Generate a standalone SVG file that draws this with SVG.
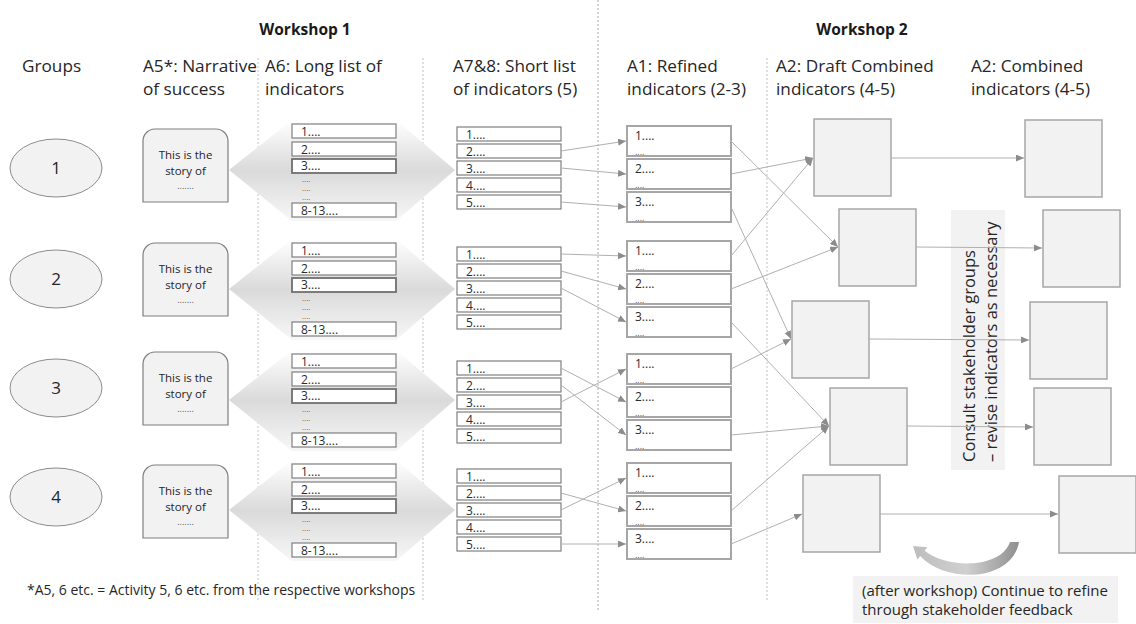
<svg xmlns="http://www.w3.org/2000/svg" width="1136" height="624" viewBox="0 0 1136 624">
  <defs>
    <style>
      text { font-family: "Open Sans", "Liberation Sans", sans-serif; fill: #404040; }
      .hd { font-size: 17.2px; fill: #262626; }
      .ws { font-size: 15.5px; font-weight: bold; fill: #1a1a1a; text-anchor: middle; }
      .div { stroke: #c4c4c4; stroke-width: 1; stroke-dasharray: 2 2; fill: none; }
      .div2 { stroke: #a8a8a8; stroke-width: 1; stroke-dasharray: 2 2; fill: none; }
      .ell { fill: #f2f2f2; stroke: #8c8c8c; stroke-width: 1; }
      .num { font-size: 17px; text-anchor: middle; fill: #262626; }
      .story { fill: #f2f2f2; stroke: #7f7f7f; stroke-width: 1.2; }
      .st { font-size: 11.5px; text-anchor: middle; fill: #262626; }
      .sd { font-size: 9px; text-anchor: middle; fill: #595959; }
      .fan { fill: url(#fanGrad); }
      .bx { fill: #ffffff; stroke: #7f7f7f; stroke-width: 1.2; }
      .bx3 { fill: #ffffff; stroke: #6f6f6f; stroke-width: 1.8; }
      .lt { font-size: 12px; fill: #2b2b2b; }
      .dt { font-size: 8px; fill: #595959; }
      .rd { font-size: 9px; fill: #595959; }
      .ref { fill: #ffffff; stroke: #a6a6a6; stroke-width: 2; }
      .sq { fill: #f2f2f2; stroke: #a6a6a6; stroke-width: 1.5; }
      .cn line { stroke: #b0b0b0; stroke-width: 1; marker-end: url(#ah); }
      .note { font-size: 15px; fill: #262626; }
      .vt { font-size: 16.5px; fill: #262626; }
      .fn { font-size: 14px; fill: #262626; }
    </style>
    <marker id="ah" markerUnits="userSpaceOnUse" markerWidth="8" markerHeight="7" refX="8" refY="3.5" orient="auto">
      <path d="M0,0 L8,3.5 L0,7 Z" fill="#8c8c8c"/>
    </marker>
    <linearGradient id="fanGrad" x1="0" y1="0" x2="0" y2="1">
      <stop offset="0" stop-color="#ffffff"/>
      <stop offset="0.5" stop-color="#dadada"/>
      <stop offset="1" stop-color="#f7f7f7"/>
    </linearGradient>
    <linearGradient id="loopGrad" x1="0" y1="0" x2="1" y2="0">
      <stop offset="0" stop-color="#bdbdbd"/>
      <stop offset="0.5" stop-color="#d0d0d0"/>
      <stop offset="1" stop-color="#8f8f8f"/>
    </linearGradient>
  </defs>

  <rect width="1136" height="624" fill="#ffffff"/>

  <!-- column dividers -->
  <g id="dividers">
    <line class="div" x1="258" y1="58" x2="258" y2="600"/>
    <line class="div" x1="423" y1="58" x2="423" y2="600"/>
    <line class="div2" x1="598" y1="0" x2="598" y2="610"/>
    <line class="div" x1="767" y1="58" x2="767" y2="600"/>
  </g>

  <!-- headings -->
  <g id="headings">
    <text class="ws" x="305" y="35">Workshop 1</text>
    <text class="ws" x="862" y="35">Workshop 2</text>
    <text class="hd" x="22" y="72">Groups</text>
    <text class="hd" x="143" y="72">A5*: Narrative</text>
    <text class="hd" x="143" y="95">of success</text>
    <text class="hd" x="265" y="72">A6: Long list of</text>
    <text class="hd" x="265" y="95">indicators</text>
    <text class="hd" x="453" y="72">A7&amp;8: Short list</text>
    <text class="hd" x="453" y="95">of indicators (5)</text>
    <text class="hd" x="627" y="72">A1: Refined</text>
    <text class="hd" x="627" y="95">indicators (2-3)</text>
    <text class="hd" x="776" y="72">A2: Draft Combined</text>
    <text class="hd" x="776" y="95">indicators (4-5)</text>
    <text class="hd" x="971" y="72">A2: Combined</text>
    <text class="hd" x="971" y="95">indicators (4-5)</text>
  </g>

  <!-- group 1 -->
  <g id="group-1">
    <ellipse class="ell" cx="56" cy="168" rx="46" ry="29"/>
    <text class="num" x="56" y="174">1</text>
    <path class="story" d="M143,202 V141 A12,12 0 0 1 155,129 H216 A12,12 0 0 1 228,141 V202 Z"/>
    <text class="st" x="185.5" y="159">This is the</text>
    <text class="st" x="185.5" y="175">story of</text>
    <text class="sd" x="185.5" y="189">.......</text>
    <polygon class="fan" points="229,170 292,120 396,120 455,170 396,221 292,221"/>
    <rect class="bx" x="292" y="124" width="104" height="14"/><text class="lt" x="301" y="135.5">1....</text>
    <rect class="bx" x="292" y="142" width="104" height="14"/><text class="lt" x="301" y="153.5">2....</text>
    <rect class="bx3" x="292" y="159" width="104" height="14"/><text class="lt" x="301" y="169.5">3....</text>
    <text class="dt" x="302" y="181.5">....</text>
    <text class="dt" x="302" y="190.5">....</text>
    <text class="dt" x="302" y="199.5">....</text>
    <rect class="bx" x="292" y="203" width="104" height="14"/><text class="lt" x="301" y="214.5">8-13....</text>
    <rect class="bx" x="457" y="127" width="104" height="14"/><text class="lt" x="466" y="138.5">1....</text>
    <rect class="bx" x="457" y="144" width="104" height="14"/><text class="lt" x="466" y="155.5">2....</text>
    <rect class="bx" x="457" y="161" width="104" height="14"/><text class="lt" x="466" y="172.5">3....</text>
    <rect class="bx" x="457" y="178" width="104" height="14"/><text class="lt" x="466" y="189.5">4....</text>
    <rect class="bx" x="457" y="195" width="104" height="14"/><text class="lt" x="466" y="206.5">5....</text>
    <rect class="ref" x="627" y="126" width="104" height="30"/><text class="lt" x="635" y="140">1....</text><text class="rd" x="635" y="155">....</text>
    <rect class="ref" x="627" y="159" width="104" height="30"/><text class="lt" x="635" y="173">2....</text><text class="rd" x="635" y="188">....</text>
    <rect class="ref" x="627" y="192" width="104" height="30"/><text class="lt" x="635" y="206">3....</text><text class="rd" x="635" y="221">....</text>
  </g>

  <!-- group 2 -->
  <g id="group-2">
    <ellipse class="ell" cx="56" cy="279" rx="46" ry="29"/>
    <text class="num" x="56" y="285">2</text>
    <path class="story" d="M143,316 V255 A12,12 0 0 1 155,243 H216 A12,12 0 0 1 228,255 V316 Z"/>
    <text class="st" x="185.5" y="273">This is the</text>
    <text class="st" x="185.5" y="289">story of</text>
    <text class="sd" x="185.5" y="303">.......</text>
    <polygon class="fan" points="229,289 292,239 396,239 455,289 396,340 292,340"/>
    <rect class="bx" x="292" y="243" width="104" height="14"/><text class="lt" x="301" y="254.5">1....</text>
    <rect class="bx" x="292" y="261" width="104" height="14"/><text class="lt" x="301" y="272.5">2....</text>
    <rect class="bx3" x="292" y="278" width="104" height="14"/><text class="lt" x="301" y="288.5">3....</text>
    <text class="dt" x="302" y="300.5">....</text>
    <text class="dt" x="302" y="309.5">....</text>
    <text class="dt" x="302" y="318.5">....</text>
    <rect class="bx" x="292" y="322" width="104" height="14"/><text class="lt" x="301" y="333.5">8-13....</text>
    <rect class="bx" x="457" y="247" width="104" height="14"/><text class="lt" x="466" y="258.5">1....</text>
    <rect class="bx" x="457" y="264" width="104" height="14"/><text class="lt" x="466" y="275.5">2....</text>
    <rect class="bx" x="457" y="281" width="104" height="14"/><text class="lt" x="466" y="292.5">3....</text>
    <rect class="bx" x="457" y="298" width="104" height="14"/><text class="lt" x="466" y="309.5">4....</text>
    <rect class="bx" x="457" y="315" width="104" height="14"/><text class="lt" x="466" y="326.5">5....</text>
    <rect class="ref" x="627" y="241" width="104" height="30"/><text class="lt" x="635" y="255">1....</text><text class="rd" x="635" y="270">....</text>
    <rect class="ref" x="627" y="274" width="104" height="30"/><text class="lt" x="635" y="288">2....</text><text class="rd" x="635" y="303">....</text>
    <rect class="ref" x="627" y="307" width="104" height="30"/><text class="lt" x="635" y="321">3....</text><text class="rd" x="635" y="336">....</text>
  </g>

  <!-- group 3 -->
  <g id="group-3">
    <ellipse class="ell" cx="56" cy="388" rx="46" ry="29"/>
    <text class="num" x="56" y="394">3</text>
    <path class="story" d="M143,425 V364 A12,12 0 0 1 155,352 H216 A12,12 0 0 1 228,364 V425 Z"/>
    <text class="st" x="185.5" y="382">This is the</text>
    <text class="st" x="185.5" y="398">story of</text>
    <text class="sd" x="185.5" y="412">.......</text>
    <polygon class="fan" points="229,400 292,350 396,350 455,400 396,451 292,451"/>
    <rect class="bx" x="292" y="354" width="104" height="14"/><text class="lt" x="301" y="365.5">1....</text>
    <rect class="bx" x="292" y="372" width="104" height="14"/><text class="lt" x="301" y="383.5">2....</text>
    <rect class="bx3" x="292" y="389" width="104" height="14"/><text class="lt" x="301" y="399.5">3....</text>
    <text class="dt" x="302" y="411.5">....</text>
    <text class="dt" x="302" y="420.5">....</text>
    <text class="dt" x="302" y="429.5">....</text>
    <rect class="bx" x="292" y="433" width="104" height="14"/><text class="lt" x="301" y="444.5">8-13....</text>
    <rect class="bx" x="457" y="361" width="104" height="14"/><text class="lt" x="466" y="372.5">1....</text>
    <rect class="bx" x="457" y="378" width="104" height="14"/><text class="lt" x="466" y="389.5">2....</text>
    <rect class="bx" x="457" y="395" width="104" height="14"/><text class="lt" x="466" y="406.5">3....</text>
    <rect class="bx" x="457" y="412" width="104" height="14"/><text class="lt" x="466" y="423.5">4....</text>
    <rect class="bx" x="457" y="429" width="104" height="14"/><text class="lt" x="466" y="440.5">5....</text>
    <rect class="ref" x="627" y="354" width="104" height="30"/><text class="lt" x="635" y="368">1....</text><text class="rd" x="635" y="383">....</text>
    <rect class="ref" x="627" y="387" width="104" height="30"/><text class="lt" x="635" y="401">2....</text><text class="rd" x="635" y="416">....</text>
    <rect class="ref" x="627" y="420" width="104" height="30"/><text class="lt" x="635" y="434">3....</text><text class="rd" x="635" y="449">....</text>
  </g>

  <!-- group 4 -->
  <g id="group-4">
    <ellipse class="ell" cx="56" cy="497" rx="46" ry="29"/>
    <text class="num" x="56" y="503">4</text>
    <path class="story" d="M143,538 V477 A12,12 0 0 1 155,465 H216 A12,12 0 0 1 228,477 V538 Z"/>
    <text class="st" x="185.5" y="495">This is the</text>
    <text class="st" x="185.5" y="511">story of</text>
    <text class="sd" x="185.5" y="525">.......</text>
    <polygon class="fan" points="229,510 292,460 396,460 455,510 396,561 292,561"/>
    <rect class="bx" x="292" y="464" width="104" height="14"/><text class="lt" x="301" y="475.5">1....</text>
    <rect class="bx" x="292" y="482" width="104" height="14"/><text class="lt" x="301" y="493.5">2....</text>
    <rect class="bx3" x="292" y="499" width="104" height="14"/><text class="lt" x="301" y="509.5">3....</text>
    <text class="dt" x="302" y="521.5">....</text>
    <text class="dt" x="302" y="530.5">....</text>
    <text class="dt" x="302" y="539.5">....</text>
    <rect class="bx" x="292" y="543" width="104" height="14"/><text class="lt" x="301" y="554.5">8-13....</text>
    <rect class="bx" x="457" y="469" width="104" height="14"/><text class="lt" x="466" y="480.5">1....</text>
    <rect class="bx" x="457" y="486" width="104" height="14"/><text class="lt" x="466" y="497.5">2....</text>
    <rect class="bx" x="457" y="503" width="104" height="14"/><text class="lt" x="466" y="514.5">3....</text>
    <rect class="bx" x="457" y="520" width="104" height="14"/><text class="lt" x="466" y="531.5">4....</text>
    <rect class="bx" x="457" y="537" width="104" height="14"/><text class="lt" x="466" y="548.5">5....</text>
    <rect class="ref" x="627" y="463" width="104" height="30"/><text class="lt" x="635" y="477">1....</text><text class="rd" x="635" y="492">....</text>
    <rect class="ref" x="627" y="496" width="104" height="30"/><text class="lt" x="635" y="510">2....</text><text class="rd" x="635" y="525">....</text>
    <rect class="ref" x="627" y="529" width="104" height="30"/><text class="lt" x="635" y="543">3....</text><text class="rd" x="635" y="558">....</text>
  </g>

  <!-- consultation banner -->
  <g id="consult">
    <rect x="951" y="210" width="54" height="260" fill="#f2f2f2"/>
    <text class="vt" transform="translate(975,462) rotate(-90)">Consult stakeholder groups</text>
    <text class="vt" transform="translate(997,462) rotate(-90)">– revise indicators as necessary</text>
  </g>

  <!-- draft combined indicators -->
  <g id="draft-a"><rect class="sq" x="814" y="119" width="77" height="77"/></g>
  <g id="draft-b"><rect class="sq" x="839" y="209" width="77" height="77"/></g>
  <g id="draft-c"><rect class="sq" x="792" y="301" width="77" height="77"/></g>
  <g id="draft-d"><rect class="sq" x="830" y="388" width="77" height="77"/></g>
  <g id="draft-e"><rect class="sq" x="803" y="475" width="77" height="77"/></g>

  <!-- combined indicators -->
  <g id="final-a"><rect class="sq" x="1025" y="120" width="77" height="77"/></g>
  <g id="final-b"><rect class="sq" x="1043" y="210" width="77" height="77"/></g>
  <g id="final-c"><rect class="sq" x="1030" y="302" width="77" height="77"/></g>
  <g id="final-d"><rect class="sq" x="1034" y="388" width="77" height="77"/></g>
  <g id="final-e"><rect class="sq" x="1059" y="476" width="77" height="77"/></g>

  <!-- connectors -->
  <g id="connectors" class="cn">
    <!-- short list to refined -->
    <line x1="561" y1="151" x2="626" y2="141"/>
    <line x1="561" y1="168" x2="626" y2="174"/>
    <line x1="561" y1="202" x2="626" y2="207"/>
    <line x1="561" y1="254" x2="626" y2="256"/>
    <line x1="561" y1="271" x2="626" y2="289"/>
    <line x1="561" y1="288" x2="626" y2="322"/>
    <line x1="561" y1="368" x2="626" y2="402"/>
    <line x1="561" y1="385" x2="626" y2="435"/>
    <line x1="561" y1="402" x2="626" y2="369"/>
    <line x1="561" y1="493" x2="626" y2="511"/>
    <line x1="561" y1="510" x2="626" y2="478"/>
    <line x1="561" y1="544" x2="626" y2="544"/>
    <!-- refined to draft combined -->
    <line x1="731" y1="141" x2="838" y2="247"/>
    <line x1="731" y1="174" x2="813" y2="158"/>
    <line x1="731" y1="207" x2="791" y2="339"/>
    <line x1="731" y1="256" x2="813" y2="158"/>
    <line x1="731" y1="289" x2="838" y2="247"/>
    <line x1="731" y1="322" x2="829" y2="426"/>
    <line x1="731" y1="369" x2="791" y2="339"/>
    <line x1="731" y1="435" x2="829" y2="426"/>
    <line x1="731" y1="511" x2="829" y2="426"/>
    <line x1="731" y1="544" x2="802" y2="514"/>
    <!-- draft combined to combined -->
    <line x1="891" y1="158" x2="1024" y2="158"/>
    <line x1="916" y1="247" x2="1042" y2="248"/>
    <line x1="869" y1="339" x2="1029" y2="340"/>
    <line x1="907" y1="426" x2="1033" y2="427"/>
    <line x1="880" y1="514" x2="1058" y2="514"/>
  </g>

  <!-- feedback loop -->
  <g id="feedback">
    <path d="M1010,542 L1019,542 C1012,582 945,584 920.2,556.1 L917.4,559.6 L913,546 L927.4,547.2 L924.6,550.7 C945,568 1000,570 1010,542 Z" fill="url(#loopGrad)"/>
    <rect x="853" y="576" width="265" height="47" fill="#f2f2f2"/>
    <text class="note" x="862" y="596">(after workshop) Continue to refine</text>
    <text class="note" x="862" y="615">through stakeholder feedback</text>
  </g>

  <text class="fn" x="27" y="595">*A5, 6 etc. = Activity 5, 6 etc. from the respective workshops</text>
</svg>
